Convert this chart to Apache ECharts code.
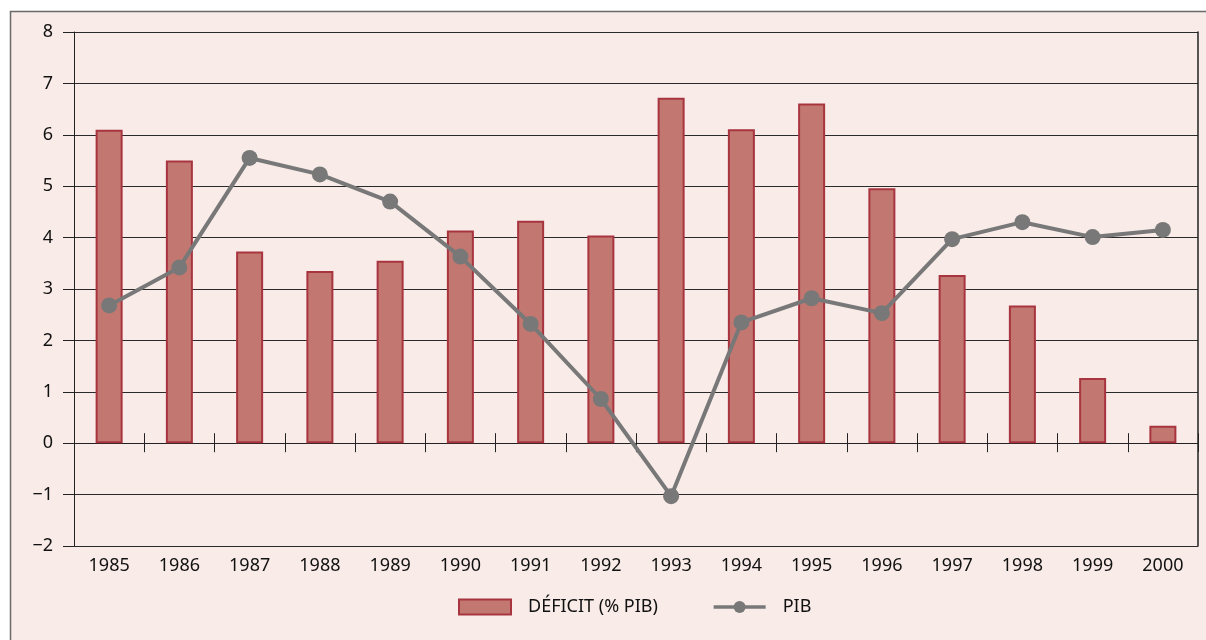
<!DOCTYPE html>
<html>
<head>
<meta charset="utf-8">
<script src="https://cdn.jsdelivr.net/npm/echarts@6/dist/echarts.min.js"></script>
<style>
html,body{margin:0;padding:0;background:#fff;}
#chart{width:1206px;height:640px;}
</style>
</head>
<body>
<div id="chart"></div>
<script>
const years = ['1985','1986','1987','1988','1989','1990','1991','1992','1993','1994','1995','1996','1997','1998','1999','2000'];
const deficit = [6.1, 5.5, 3.73, 3.35, 3.55, 4.14, 4.33, 4.04, 6.72, 6.11, 6.61, 4.96, 3.27, 2.68, 1.27, 0.34];
const pib = [2.68, 3.42, 5.55, 5.23, 4.7, 3.63, 2.32, 0.86, -1.03, 2.35, 2.82, 2.53, 3.97, 4.3, 4.01, 4.15];
const yMin = -2, yMax = 8, yStep = 1;
const seriesNames = ['DÉFICIT (% PIB)', 'PIB'];

const FONT = 'Noto Sans';
const chart = echarts.init(document.getElementById('chart'), null, {renderer: 'canvas'});
chart.setOption({
  backgroundColor: '#ffffff',
  animation: false,
  textStyle: {fontFamily: FONT},
  graphic: [{
    type: 'rect', z: -10, silent: true,
    shape: {x: 10.5, y: 11.5, width: 1220, height: 660},
    style: {fill: '#f8ebe8', stroke: '#6a6a6a', lineWidth: 1.5}
  }],
  grid: {left: 74, right: 8, top: 32, bottom: 94, containLabel: false},
  legend: {
    bottom: 19, left: 453,
    itemWidth: 52, itemHeight: 15, itemGap: 54,
    textStyle: {fontFamily: FONT, fontSize: 18, color: '#111', padding: [0, 0, 0, 12]},
    data: [
      {name: seriesNames[0], icon: 'rect'},
      {name: seriesNames[1], lineStyle: {width: 3.5, color: '#787878'}}
    ]
  },
  xAxis: [
    {
      type: 'category', data: years, position: 'bottom',
      axisLine: {show: false, onZero: false},
      axisTick: {show: false},
      axisLabel: {fontFamily: FONT, fontSize: 18, color: '#111', margin: 11},
      splitLine: {show: false}
    },
    {
      type: 'category', data: years, position: 'bottom',
      axisLine: {show: true, onZero: true, lineStyle: {color: '#222', width: 1}},
      axisTick: {show: true, inside: false, length: 9, lineStyle: {color: '#222', width: 1}},
      axisLabel: {show: false},
      splitLine: {show: false}
    },
    {
      type: 'category', data: years, position: 'bottom',
      axisLine: {show: false, onZero: true},
      axisTick: {show: true, inside: true, length: 10, lineStyle: {color: '#222', width: 1}},
      axisLabel: {show: false},
      splitLine: {show: false}
    }
  ],
  yAxis: [
    {
      type: 'value', min: yMin, max: yMax, interval: yStep, position: 'left',
      axisLine: {show: true, lineStyle: {color: '#222', width: 1}},
      axisTick: {show: true, length: 11, lineStyle: {color: '#222', width: 1}},
      axisLabel: {fontFamily: FONT, fontSize: 18, color: '#111', margin: 21,
        formatter: v => v < 0 ? '\u2212' + Math.abs(v) : String(v)},
      splitLine: {show: true, lineStyle: {color: '#2a2a2a', width: 1}}
    },
    {
      type: 'value', min: yMin, max: yMax, interval: yStep, position: 'right',
      axisLine: {show: true, lineStyle: {color: '#222', width: 1.5}},
      axisTick: {show: false}, axisLabel: {show: false}, splitLine: {show: false}
    }
  ],
  series: [
    {
      name: seriesNames[0], type: 'bar', xAxisIndex: 0, yAxisIndex: 0,
      data: deficit, barWidth: 27,
      itemStyle: {color: '#c27870', borderColor: '#a8343f', borderWidth: 2}
    },
    {
      name: seriesNames[1], type: 'line', xAxisIndex: 0, yAxisIndex: 0,
      data: pib, symbol: 'circle', symbolSize: 16,
      itemStyle: {color: '#787878'},
      lineStyle: {color: '#787878', width: 4}
    }
  ]
});
</script>
</body>
</html>
